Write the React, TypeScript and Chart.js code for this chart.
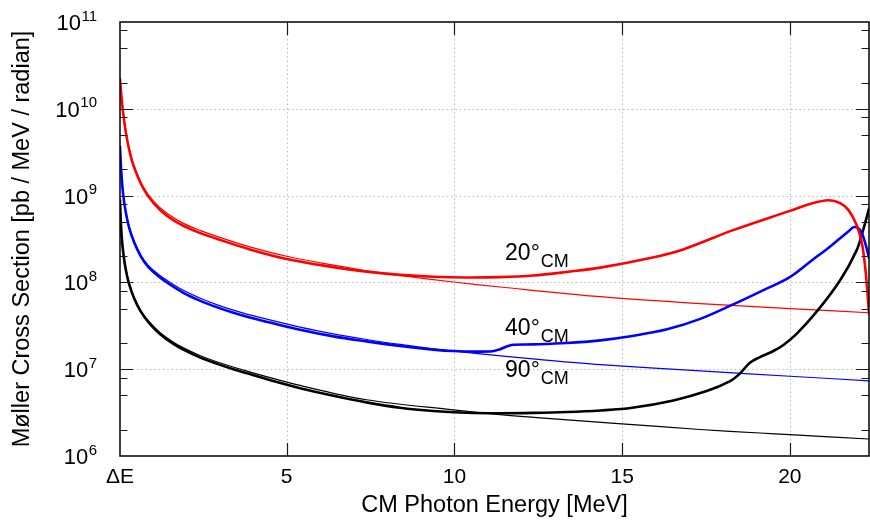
import { useEffect, useRef } from 'react';
import { Chart, registerables } from 'chart.js';

Chart.register(...registerables);

const FONT = '"Liberation Sans", Arial, sans-serif';

// Axes
const X_MIN = 0.03;
const X_MAX = 22.36;
const X_TICKS = [5, 10, 15, 20];
const X_TICK_DELTA_LABEL = 'ΔE';
const Y_MIN = 1e6;
const Y_MAX = 1e11;
const Y_EXPONENTS = [6, 7, 8, 9, 10, 11];
const Y_MINOR = [2, 5, 8];
const X_TITLE = 'CM Photon Energy [MeV]';
const Y_TITLE = 'Møller Cross Section [pb / MeV / radian]';

// 20° CM : full calculation (thick) and approximation (thin)
const RED_FULL_X = [0.03, 0.07, 0.11, 0.18, 0.28, 0.43, 0.72, 1.02, 1.42, 1.92, 2.41, 3.01, 3.9, 5.0, 6.39, 7.38, 8.38, 9.37, 10.36, 11.36, 12.35, 13.35, 14.35, 15.84, 16.82, 18.31, 20.0, 20.6, 21.15, 21.5, 21.75, 22.0, 22.15, 22.25, 22.32, 22.36];
const RED_FULL_Y = [2.19e10, 1.42e10, 1.0e10, 6.17e9, 3.72e9, 2.24e9, 1.22e9, 8.32e8, 5.9e8, 4.47e8, 3.72e8, 3.09e8, 2.4e8, 1.86e8, 1.5e8, 1.33e8, 1.22e8, 1.16e8, 1.14e8, 1.15e8, 1.2e8, 1.32e8, 1.48e8, 1.91e8, 2.4e8, 4.0e8, 6.67e8, 8.0e8, 8.85e8, 8.2e8, 6.8e8, 4.5e8, 2.8e8, 1.45e8, 7.1e7, 4.4e7];
const RED_APPROX_X = [0.03, 0.07, 0.11, 0.18, 0.28, 0.43, 0.72, 1.02, 1.42, 1.92, 2.41, 3.01, 3.9, 5.0, 6.39, 7.38, 8.38, 9.97, 11.36, 14.35, 17.33, 20.0, 22.36];
const RED_APPROX_Y = [2.19e10, 1.42e10, 1.0e10, 6.2e9, 3.76e9, 2.28e9, 1.26e9, 8.7e8, 6.3e8, 4.79e8, 3.98e8, 3.3e8, 2.57e8, 2.0e8, 1.58e8, 1.36e8, 1.2e8, 1.01e8, 8.85e7, 6.84e7, 5.7e7, 5.0e7, 4.47e7];

// 40° CM
const BLUE_FULL_X = [0.03, 0.05, 0.08, 0.128, 0.2, 0.3, 0.45, 0.65, 0.865, 1.15, 1.44, 1.92, 2.41, 2.91, 3.41, 3.9, 5.4, 6.39, 7.38, 8.38, 9.37, 9.97, 11.07, 11.36, 11.56, 11.75, 12.35, 13.35, 14.35, 15.35, 16.34, 17.33, 18.31, 19.2, 20.0, 20.7, 21.1, 21.5, 21.75, 21.92, 22.1, 22.25, 22.36];
const BLUE_FULL_Y = [3.65e9, 2.5e9, 1.62e9, 1.0e9, 6.5e8, 4.3e8, 2.9e8, 2.0e8, 1.52e8, 1.2e8, 9.9e7, 7.59e7, 6.17e7, 5.19e7, 4.47e7, 3.95e7, 2.85e7, 2.39e7, 2.09e7, 1.85e7, 1.68e7, 1.62e7, 1.6e7, 1.7e7, 1.83e7, 1.91e7, 1.93e7, 2.0e7, 2.15e7, 2.43e7, 2.88e7, 3.8e7, 5.58e7, 8.11e7, 1.15e8, 1.85e8, 2.41e8, 3.23e8, 3.88e8, 4.35e8, 3.98e8, 2.82e8, 1.91e8];
const BLUE_APPROX_X = [0.03, 0.05, 0.08, 0.128, 0.2, 0.3, 0.45, 0.65, 0.865, 1.15, 1.44, 1.92, 2.41, 2.91, 3.41, 3.9, 5.4, 6.39, 7.38, 8.38, 9.37, 10.56, 12.5, 14.35, 17.33, 20.0, 22.36];
const BLUE_APPROX_Y = [3.72e9, 2.55e9, 1.66e9, 1.03e9, 6.65e8, 4.42e8, 2.98e8, 2.07e8, 1.58e8, 1.26e8, 1.05e8, 8.1e7, 6.6e7, 5.55e7, 4.79e7, 4.22e7, 3.05e7, 2.55e7, 2.2e7, 1.93e7, 1.72e7, 1.53e7, 1.3e7, 1.13e7, 9.55e6, 8.3e6, 7.35e6];

// 90° CM
const BLACK_FULL_X = [0.03, 0.05, 0.08, 0.128, 0.2, 0.3, 0.45, 0.65, 0.9, 1.22, 1.6, 1.92, 2.41, 2.91, 3.41, 3.9, 4.6, 5.4, 6.39, 7.38, 8.38, 9.37, 10.36, 11.36, 12.35, 13.35, 14.35, 15.3, 16.53, 17.52, 18.22, 18.51, 18.81, 19.11, 19.51, 19.81, 20.2, 20.8, 21.5, 21.99, 22.2, 22.36];
const BLACK_FULL_Y = [8.85e8, 5.5e8, 3.4e8, 2.18e8, 1.42e8, 9.6e7, 6.55e7, 4.6e7, 3.4e7, 2.55e7, 1.98e7, 1.68e7, 1.37e7, 1.16e7, 1.0e7, 8.8e6, 7.3e6, 6.05e6, 4.95e6, 4.15e6, 3.6e6, 3.3e6, 3.15e6, 3.11e6, 3.14e6, 3.21e6, 3.35e6, 3.6e6, 4.37e6, 5.6e6, 7.3e6, 8.9e6, 1.19e7, 1.38e7, 1.62e7, 1.9e7, 2.55e7, 4.6e7, 1.06e8, 2.34e8, 4.2e8, 7.08e8];
const BLACK_APPROX_X = [0.03, 0.05, 0.08, 0.128, 0.2, 0.3, 0.45, 0.65, 0.9, 1.22, 1.6, 1.92, 2.41, 2.91, 3.9, 5.4, 7.38, 9.97, 11.36, 12.56, 14.99, 17.32, 19.11, 20.0, 22.36];
const BLACK_APPROX_Y = [8.91e8, 5.55e8, 3.45e8, 2.22e8, 1.45e8, 9.85e7, 6.75e7, 4.75e7, 3.52e7, 2.65e7, 2.07e7, 1.76e7, 1.44e7, 1.22e7, 9.3e6, 6.5e6, 4.45e6, 3.4e6, 3.0e6, 2.75e6, 2.35e6, 2.02e6, 1.84e6, 1.76e6, 1.57e6];

// Curve labels
const CURVE_LABELS = ['20', '40', '90'];
const CURVE_LABEL_SUFFIX = '°';
const CURVE_LABEL_SUB = 'CM';
const CURVE_LABEL_X = 11.51;
const CURVE_LABEL_Y = [1.8e8, 2.45e7, 8.15e6];

const pts = (xs: number[], ys: number[]) => xs.map((x, i) => ({ x, y: ys[i] }));

const framePlugin = {
  id: 'framePlugin',
  beforeDatasetsDraw(chart: any) {
    const { ctx, chartArea, scales } = chart;
    const { left, right, top, bottom } = chartArea;
    const xs = scales.x;
    const ys = scales.y;
    ctx.save();
    ctx.strokeStyle = '#b5b5b5';
    ctx.lineWidth = 1;
    ctx.setLineDash([1.4, 2.9]);
    X_TICKS.forEach((v) => {
      const px = Math.round(xs.getPixelForValue(v)) + 0.5;
      ctx.beginPath();
      ctx.moveTo(px, top);
      ctx.lineTo(px, bottom);
      ctx.stroke();
    });
    Y_EXPONENTS.forEach((e) => {
      const v = Math.pow(10, e);
      if (v <= Y_MIN || v >= Y_MAX) return;
      const py = Math.round(ys.getPixelForValue(v)) + 0.5;
      ctx.beginPath();
      ctx.moveTo(left, py);
      ctx.lineTo(right, py);
      ctx.stroke();
    });
    ctx.restore();
  },
  afterDatasetsDraw(chart: any) {
    const { ctx, chartArea, scales } = chart;
    const { left, right, top, bottom } = chartArea;
    const xs = scales.x;
    const ys = scales.y;
    ctx.save();
    ctx.setLineDash([]);
    ctx.strokeStyle = '#1a1a1a';
    ctx.lineWidth = 1.2;
    const MAJ = 13;
    const MIN = 7.5;
    X_TICKS.forEach((v) => {
      const px = Math.round(xs.getPixelForValue(v)) + 0.5;
      ctx.beginPath();
      ctx.moveTo(px, bottom);
      ctx.lineTo(px, bottom - MAJ);
      ctx.moveTo(px, top);
      ctx.lineTo(px, top + MAJ);
      ctx.stroke();
    });
    Y_EXPONENTS.forEach((e) => {
      const v = Math.pow(10, e);
      const py = Math.round(ys.getPixelForValue(v)) + 0.5;
      if (v > Y_MIN && v < Y_MAX) {
        ctx.beginPath();
        ctx.moveTo(left, py);
        ctx.lineTo(left + MAJ, py);
        ctx.moveTo(right, py);
        ctx.lineTo(right - MAJ, py);
        ctx.stroke();
      }
      if (e < Y_EXPONENTS[Y_EXPONENTS.length - 1]) {
        Y_MINOR.forEach((m) => {
          const pm = Math.round(ys.getPixelForValue(m * v)) + 0.5;
          ctx.beginPath();
          ctx.moveTo(left, pm);
          ctx.lineTo(left + MIN, pm);
          ctx.moveTo(right, pm);
          ctx.lineTo(right - MIN, pm);
          ctx.stroke();
        });
      }
    });
    ctx.strokeStyle = '#000';
    ctx.lineWidth = 1.5;
    ctx.strokeRect(left, top, right - left, bottom - top);

    // y tick labels 10^n
    ctx.fillStyle = '#000';
    ctx.textBaseline = 'alphabetic';
    ctx.textAlign = 'right';
    const labelRight = left - 23;
    Y_EXPONENTS.forEach((e) => {
      const py = ys.getPixelForValue(Math.pow(10, e));
      ctx.font = '15px ' + FONT;
      const expStr = String(e);
      const w = ctx.measureText(expStr).width;
      ctx.fillText(expStr, labelRight, py - 1.5);
      ctx.font = '22px ' + FONT;
      ctx.fillText('10', labelRight - w - 0.5, py + 8);
    });

    // curve labels
    ctx.textAlign = 'left';
    CURVE_LABELS.forEach((lab, i) => {
      const px = xs.getPixelForValue(CURVE_LABEL_X);
      const py = ys.getPixelForValue(CURVE_LABEL_Y[i]);
      ctx.font = '23px ' + FONT;
      const main = lab + CURVE_LABEL_SUFFIX;
      ctx.fillText(main, px, py);
      const w = ctx.measureText(main).width;
      ctx.font = '18px ' + FONT;
      ctx.fillText(CURVE_LABEL_SUB, px + w + 1, py + 7);
    });
    ctx.restore();
  },
};

export default function App() {
  const ref = useRef<HTMLCanvasElement | null>(null);

  useEffect(() => {
    const canvas = ref.current;
    if (!canvas) return;
    const thick = 2.6;
    const thin = 1.2;
    const mk = (xs: number[], ys: number[], color: string, width: number, order: number) => ({
      data: pts(xs, ys),
      borderColor: color,
      backgroundColor: color,
      borderWidth: width,
      pointRadius: 0,
      pointHoverRadius: 0,
      fill: false,
      tension: 0.35,
      borderJoinStyle: 'round' as const,
      borderCapStyle: 'round' as const,
      order,
    });
    const chart = new Chart(canvas, {
      type: 'line',
      data: {
        datasets: [
          mk(RED_FULL_X, RED_FULL_Y, '#ff0000', thick, 0),
          mk(BLUE_FULL_X, BLUE_FULL_Y, '#0000ff', thick, 0),
          mk(BLACK_FULL_X, BLACK_FULL_Y, '#000000', thick, 0),
          mk(RED_APPROX_X, RED_APPROX_Y, '#ff0000', thin, 1),
          mk(BLUE_APPROX_X, BLUE_APPROX_Y, '#0000ff', thin, 1),
          mk(BLACK_APPROX_X, BLACK_APPROX_Y, '#000000', thin, 1),
        ],
      },
      options: {
        animation: false,
        responsive: false,
        events: [],
        layout: { padding: { top: 22, right: 1, left: 0, bottom: 0 } },
        plugins: {
          legend: { display: false },
          tooltip: { enabled: false },
        },
        scales: {
          x: {
            type: 'linear',
            min: X_MIN,
            max: X_MAX,
            afterBuildTicks: (s: any) => {
              s.ticks = [X_MIN, ...X_TICKS].map((v) => ({ value: v }));
            },
            afterFit: (s: any) => {
              s.height = 64;
            },
            grid: { display: false, drawTicks: false },
            border: { display: false },
            ticks: {
              autoSkip: false,
              maxRotation: 0,
              minRotation: 0,
              padding: 9,
              color: '#000',
              font: { family: FONT, size: 21 },
              callback: (v: any) => (v === X_MIN ? X_TICK_DELTA_LABEL : String(v)),
            },
            title: {
              display: true,
              text: X_TITLE,
              color: '#000',
              font: { family: FONT, size: 23.5 },
              padding: { top: 0, bottom: 0 },
            },
          },
          y: {
            type: 'logarithmic',
            min: Y_MIN,
            max: Y_MAX,
            afterFit: (s: any) => {
              s.width = 120;
            },
            grid: { display: false, drawTicks: false },
            border: { display: false },
            ticks: { display: false },
            title: {
              display: true,
              text: Y_TITLE,
              color: '#000',
              font: { family: FONT, size: 23.5 },
              padding: { top: 8, bottom: 0 },
            },
          },
        },
      },
      plugins: [framePlugin],
    });
    return () => chart.destroy();
  }, []);

  return (
    <div style={{ position: 'absolute', left: 0, top: 0, width: 870, height: 520, background: '#fff' }}>
      <canvas ref={ref} width={870} height={520} style={{ display: 'block', width: 870, height: 520 }} />
    </div>
  );
}
